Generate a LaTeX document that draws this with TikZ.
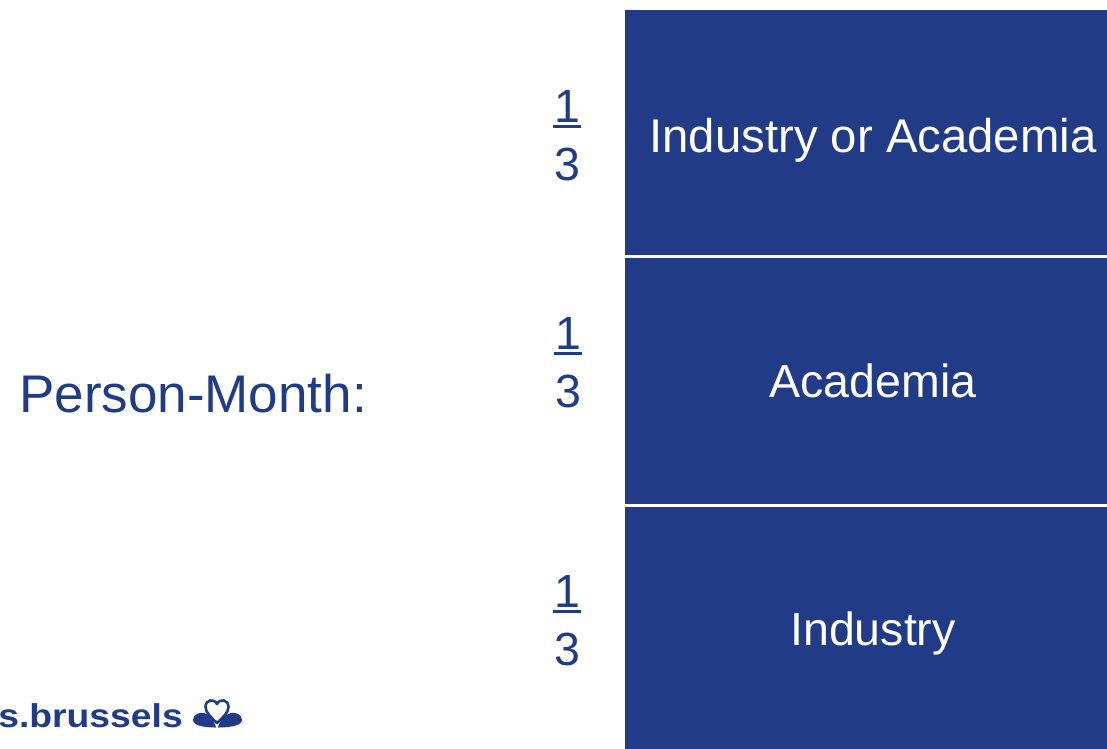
\documentclass[tikz,border=0pt]{standalone}
\usepackage{fontspec}
\setmainfont{Liberation Sans}
\definecolor{bblue}{RGB}{33,59,135}
\tikzset{
  box/.style={fill=bblue, draw=none, anchor=north west, inner sep=0pt},
  boxtext/.style={text=white, anchor=base, inner sep=0pt, font=\fontsize{46.5}{56}\selectfont},
  fracnum/.style={text=bblue, anchor=base, inner sep=0pt, font=\fontsize{46.5}{56}\selectfont},
  fracbar/.style={draw=bblue, line width=2.2pt},
  logo/.style={fill=bblue, draw=none}
}
\begin{document}
\begin{tikzpicture}[x=1pt,y=-1pt]
\useasboundingbox (0,0) rectangle (1107,748);
% boxes
\node[box, minimum width=496pt, minimum height=245.5pt] (b1) at (625,9.5) {};
\node[box, minimum width=496pt, minimum height=246.5pt] (b2) at (625,257.5) {};
\node[box, minimum width=496pt, minimum height=260pt] (b3) at (625,506.5) {};
\node[boxtext, font=\fontsize{47.3}{56}\selectfont] (t1) at (873,152) {Industry or Academia};
\node[boxtext] (t2) at (873,397) {Academia};
\node[boxtext] (t3) at (873,645) {Industry};
% label
\node[text=bblue, anchor=base west, inner sep=0pt, font=\fontsize{53}{60}\selectfont] (pm) at (19,412) {Person-Month:};
% fractions
\node[fracnum] (n1) at (567,122.5) {1};
\coordinate (a1) at (553,126.5); \coordinate (c1) at (581,126.5);
\draw[fracbar] (a1) -- (c1);
\node[fracnum] (d1) at (567,180) {3};
\node[fracnum] (n2) at (568,349.5) {1};
\coordinate (a2) at (554,353.5); \coordinate (c2) at (582,353.5);
\draw[fracbar] (a2) -- (c2);
\node[fracnum] (d2) at (568,407) {3};
\node[fracnum] (n3) at (567,607.5) {1};
\coordinate (a3) at (553,611.5); \coordinate (c3) at (581,611.5);
\draw[fracbar] (a3) -- (c3);
\node[fracnum] (d3) at (567,665.5) {3};
% logo
\node[text=bblue, anchor=base east, inner sep=0pt, font=\fontsize{33}{36}\bfseries\selectfont] (brand) at (183,727) {\scalebox{1.13}[1]{s.brussels}};
% heart icon
\draw[bblue, line width=2.6pt, line join=round]
  (217,723) .. controls (212,718) and (205.5,713) .. (205.5,707)
  .. controls (205.5,699.5) and (214,698) .. (217,704)
  .. controls (220,698) and (228.5,699.5) .. (228.5,707)
  .. controls (228.5,713) and (222,718) .. (217,723) -- cycle;
\fill[logo] (216,727.5) .. controls (210,727.5) and (193,727) .. (193,720)
  .. controls (193,714) and (200,712) .. (204,713)
  .. controls (210,714) and (214,720) .. (216,727.5) -- cycle;
\fill[logo] (218,727.5) .. controls (224,727.5) and (242,727) .. (242,720)
  .. controls (242,714) and (235,712) .. (231,713)
  .. controls (225,714) and (220,720) .. (218,727.5) -- cycle;
\end{tikzpicture}
\end{document}
